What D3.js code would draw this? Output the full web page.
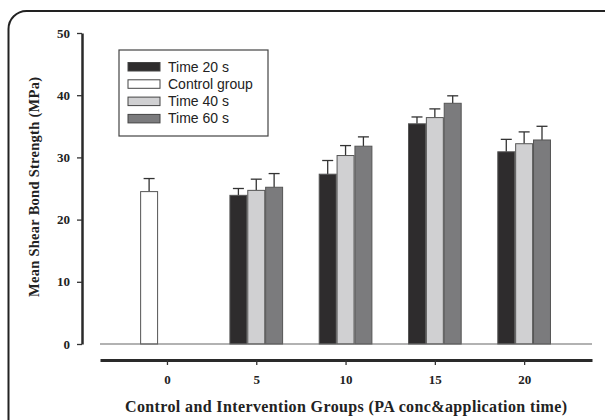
<!DOCTYPE html>
<html>
<head>
<meta charset="utf-8">
<script src="https://cdn.jsdelivr.net/npm/d3@7"></script>
<style>
  body { margin: 0; background: #fff; }
  svg { display: block; }
</style>
</head>
<body>
<div id="chart"></div>
<script>
// PA concentration groups on the x axis
const groups = [0, 5, 10, 15, 20];
const xTicks = [0, 5, 10, 15, 20];
const yTicks = [0, 10, 20, 30, 40, 50];

// series: mean and mean+SD (top of error bar), null where no bar
const seriesNames = ["Time 20 s", "Control group", "Time 40 s", "Time 60 s"];
const seriesSlot = [-1, -1, 0, 1];
const seriesFill = ["#2e2c2d", "#ffffff", "#d0d0d2", "#7b7b7d"];
const time20 = [null, 23.9, 27.3, 35.4, 30.9];
const time20Err = [null, 25.0, 29.5, 36.5, 32.9];
const control = [24.5, null, null, null, null];
const controlErr = [26.6, null, null, null, null];
const time40 = [null, 24.7, 30.3, 36.4, 32.2];
const time40Err = [null, 26.5, 31.9, 37.8, 34.1];
const time60 = [null, 25.2, 31.8, 38.7, 32.8];
const time60Err = [null, 27.4, 33.3, 39.9, 35.0];
const seriesVals = [time20, control, time40, time60];
const seriesErr = [time20Err, controlErr, time40Err, time60Err];

const W = 605, H = 420;
const svg = d3.select("#chart").append("svg")
  .attr("width", W).attr("height", H);

// rounded frame, partly cut off by the picture edges
svg.append("rect")
  .attr("x", 8.5).attr("y", 11)
  .attr("width", 620).attr("height", 430)
  .attr("rx", 18)
  .attr("fill", "none")
  .attr("stroke", "#222")
  .attr("stroke-width", 2);

const x = d3.scaleLinear().domain([-3.75, 23.8]).range([100, 592]);
const y = d3.scaleLinear().domain([0, 50]).range([344, 33]);
const unit = x(1) - x(0);
const barW = unit * 0.95;
const serif = "Liberation Serif, Times New Roman, serif";

// bars
seriesVals.forEach((vals, s) => {
  const rows = groups.map((g, i) => ({ g, v: vals[i], e: seriesErr[s][i] }))
    .filter(d => d.v != null);
  const cx = d => x(d.g + seriesSlot[s]);

  svg.append("g").selectAll("line")
    .data(rows).join("line")
    .attr("x1", cx).attr("x2", cx)
    .attr("y1", d => y(d.v)).attr("y2", d => y(d.e))
    .attr("stroke", "#333").attr("stroke-width", 1.3);
  svg.append("g").selectAll("line")
    .data(rows).join("line")
    .attr("x1", d => cx(d) - 5.5).attr("x2", d => cx(d) + 5.5)
    .attr("y1", d => y(d.e)).attr("y2", d => y(d.e))
    .attr("stroke", "#333").attr("stroke-width", 1.3);

  svg.append("g").selectAll("rect")
    .data(rows).join("rect")
    .attr("x", d => cx(d) - barW / 2)
    .attr("y", d => y(d.v))
    .attr("width", barW)
    .attr("height", d => y(0) - y(d.v))
    .attr("fill", seriesFill[s])
    .attr("stroke", "#555")
    .attr("stroke-width", 1);
});

// zero line
svg.append("line")
  .attr("x1", 100).attr("x2", 592)
  .attr("y1", y(0)).attr("y2", y(0))
  .attr("stroke", "#666").attr("stroke-width", 1.2);

// y axis
const yAxis = svg.append("g")
  .attr("transform", "translate(82,0)")
  .call(d3.axisLeft(y).tickValues(yTicks).tickSize(5).tickSizeOuter(0).tickPadding(7));
yAxis.select(".domain").attr("stroke", "#2a2a2a").attr("stroke-width", 2.5);
yAxis.selectAll(".tick line").attr("stroke", "#333").attr("stroke-width", 1.3);
yAxis.selectAll("text")
  .attr("font-family", serif)
  .attr("font-weight", "bold").attr("font-size", 13).attr("fill", "#222");

// x axis
const xAxis = svg.append("g")
  .attr("transform", "translate(0,360)")
  .call(d3.axisBottom(x).tickValues(xTicks).tickSize(5).tickSizeOuter(0).tickPadding(10));
xAxis.select(".domain").attr("stroke", "#2a2a2a").attr("stroke-width", 3);
xAxis.selectAll(".tick line").attr("stroke", "#333").attr("stroke-width", 1.3);
xAxis.selectAll("text")
  .attr("font-family", serif)
  .attr("font-weight", "bold").attr("font-size", 13).attr("fill", "#222");

// axis titles
svg.append("text")
  .attr("x", 346).attr("y", 412)
  .attr("text-anchor", "middle")
  .attr("font-family", serif)
  .attr("font-weight", "bold").attr("font-size", 16).attr("fill", "#222")
  .attr("textLength", 442).attr("lengthAdjust", "spacing")
  .text("Control and Intervention Groups (PA conc&application time)");

svg.append("text")
  .attr("transform", "translate(39,187) rotate(-90)")
  .attr("text-anchor", "middle")
  .attr("font-family", serif)
  .attr("font-weight", "bold").attr("font-size", 14.5).attr("fill", "#222")
  .attr("textLength", 220).attr("lengthAdjust", "spacing")
  .text("Mean Shear Bond Strength (MPa)");

// legend
const legend = svg.append("g").attr("transform", "translate(119,50)");
legend.append("rect")
  .attr("width", 149).attr("height", 86)
  .attr("fill", "#fff").attr("stroke", "#444").attr("stroke-width", 1.2);
seriesNames.forEach((name, i) => {
  const row = legend.append("g").attr("transform", `translate(9,${12.5 + i * 17.3})`);
  row.append("rect")
    .attr("width", 32).attr("height", 8.5)
    .attr("fill", seriesFill[i]).attr("stroke", "#444").attr("stroke-width", 1);
  row.append("text")
    .attr("x", 40).attr("y", 9)
    .attr("font-family", "Liberation Sans, Arial, sans-serif")
    .attr("font-size", 14).attr("fill", "#222")
    .text(name);
});
</script>
</body>
</html>
